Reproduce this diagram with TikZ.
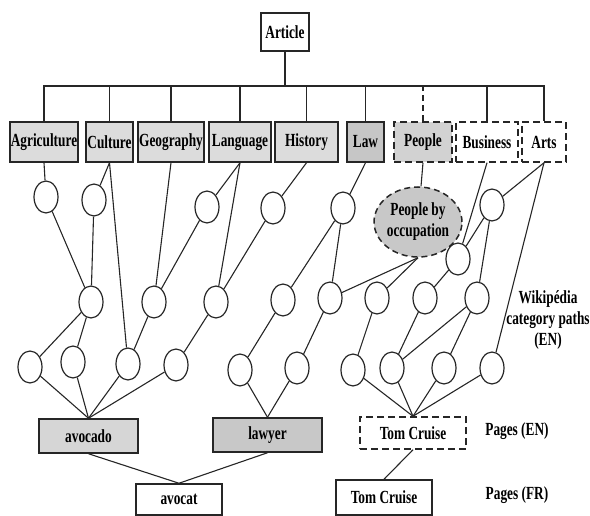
\documentclass[tikz,border=0pt]{standalone}
\usepackage{fontspec}
\setmainfont{Liberation Serif}[FakeStretch=0.72]
\usetikzlibrary{shapes.geometric}
\definecolor{lg}{HTML}{DCDCDC}
\definecolor{lawg}{HTML}{C6C6C6}
\definecolor{peopleg}{HTML}{D2D2D2}
\definecolor{avog}{HTML}{D6D6D6}
\definecolor{lawyg}{HTML}{C8C8C8}
\definecolor{pbog}{HTML}{C8C8C8}
\definecolor{ink}{HTML}{262626}
\tikzset{
  ln/.style={draw=ink, line width=1.1pt},
  bx/.style={rectangle, draw=ink, line width=1.5pt, inner sep=0pt,
             font=\fontsize{18.5}{21}\selectfont\bfseries},
  cat/.style={bx, fill=lg, minimum height=40pt},
  dashbx/.style={bx, dash pattern=on 7pt off 4pt},
  circ/.style={ellipse, draw=ink, fill=white, line width=1.2pt,
               minimum width=24pt, minimum height=32pt, inner sep=0pt},
  lbl/.style={font=\fontsize{18.5}{21}\selectfont\bfseries, align=center, inner sep=0pt}
}
\begin{document}
\begin{tikzpicture}[x=1pt,y=-1pt]
\useasboundingbox (0,0) rectangle (590,516);

% top boxes
\node[bx, minimum width=48pt, minimum height=38pt] (article) at (285,32) {Article};
\node[cat, minimum width=68pt] (agri) at (44,142) {Agriculture};
\node[cat, minimum width=47pt] (cult) at (109.5,142) {Culture};
\node[cat, minimum width=66pt] (geo) at (171,142) {Geography};
\node[cat, minimum width=62pt] (lang) at (240,142) {Language};
\node[cat, minimum width=63pt] (hist) at (306.5,142) {History};
\node[cat, fill=lawg, minimum width=37pt] (law) at (365.5,142) {Law};
\node[dashbx, fill=peopleg, minimum width=58pt, minimum height=40pt] (people) at (423,142) {People};
\node[dashbx, fill=white, minimum width=62pt, minimum height=40pt] (busi) at (487,142) {Business};
\node[dashbx, fill=white, minimum width=44pt, minimum height=40pt] (arts) at (544,142) {Arts};

% bus
\coordinate (busy) at (0,86);
\draw[ln, line width=1.3pt] (article.south) -- (article.south |- busy);
\draw[ln, line width=1.3pt] (agri.north) -- (agri.north |- busy) -- (arts.north |- busy) -- (arts.north);
\foreach \n in {cult,geo,lang,hist,law,busi}
  \draw[ln, line width=1.3pt] (\n.north) -- (\n.north |- busy);
\draw[ln, line width=1.3pt, dash pattern=on 6pt off 4pt] (people.north) -- (people.north |- busy);

% circles row 1
\node[circ] (a1) at (46,197) {};
\node[circ] (a2) at (94,200) {};
\node[circ] (a3) at (207,207) {};
\node[circ] (a4) at (273,208) {};
\node[circ] (a5) at (343,208) {};
\node[circ] (a6) at (492,205) {};
\node[circ] (a7) at (458,259) {};
\node[ellipse, draw=ink, fill=pbog, line width=1.5pt, dash pattern=on 6pt off 4pt,
      minimum width=76pt, minimum height=70pt, inner sep=0pt, lbl] (pbo) at (418,222)
      {People by\\occupation};

% circles row 2
\node[circ] (b1) at (91,302) {};
\node[circ] (b2) at (154,302) {};
\node[circ] (b3) at (216,302) {};
\node[circ] (b4) at (283,300) {};
\node[circ] (b5) at (330,298) {};
\node[circ] (b6) at (377,298) {};
\node[circ] (b7) at (425,298) {};
\node[circ] (b8) at (477,298) {};

% circles row 3
\node[circ] (c1) at (30,367) {};
\node[circ] (c2) at (73,362) {};
\node[circ] (c3) at (128,364) {};
\node[circ] (c4) at (176,365) {};
\node[circ] (c5) at (240,370) {};
\node[circ] (c6) at (297,368) {};
\node[circ] (c7) at (353,370) {};
\node[circ] (c8) at (392,368) {};
\node[circ] (c9) at (444,368) {};
\node[circ] (c10) at (492,368) {};

% bottom boxes
\node[bx, fill=avog, minimum width=99pt, minimum height=34pt] (avocado) at (88.5,436) {avocado};
\node[bx, fill=lawyg, minimum width=109pt, minimum height=34pt] (lawyer) at (267.5,435) {lawyer};
\node[dashbx, fill=white, minimum width=106pt, minimum height=32pt] (tcen) at (413,433) {Tom Cruise};
\node[bx, fill=white, minimum width=86pt, minimum height=31pt] (avocat) at (179,499.5) {avocat};
\node[bx, fill=white, minimum width=96pt, minimum height=35pt] (tcfr) at (384,497.5) {Tom Cruise};

% labels
\node[lbl] (wiki) at (548,320) {Wikip\'edia\\category paths\\(EN)};
\node[lbl] (pen) at (517,431) {Pages (EN)};
\node[lbl] (pfr) at (517,495) {Pages (FR)};

% edges from category boxes
\draw[ln] (agri.south) -- (a1);
\draw[ln] (cult.south) -- (a2);
\draw[ln] (cult.south) -- (c3);
\draw[ln] (geo.south) -- (b2);
\draw[ln] (lang.south) -- (a3);
\draw[ln] (lang.south) -- (b3);
\draw[ln] (hist.south) -- (a4);
\draw[ln] (law.south) -- (a5);
\draw[ln] (people.south) -- (pbo);
\draw[ln] (busi.south) -- (a7);
\draw[ln] (arts.south) -- (a6);
\draw[ln] (arts.south) -- (c10);

% row 1 -> row 2
\draw[ln] (a1) -- (b1);
\draw[ln] (a2) -- (b1);
\draw[ln] (a3) -- (b2);
\draw[ln] (a4) -- (b3);
\draw[ln] (a5) -- (b4);
\draw[ln] (a5) -- (b5);
\draw[ln] (pbo.south) -- (b5);
\draw[ln] (pbo.south) -- (b6);
\draw[ln] (a6) -- (a7);
\draw[ln] (a6) -- (b8);
\draw[ln] (a7) -- (b7);

% row 2 -> row 3
\draw[ln] (b1) -- (c1);
\draw[ln] (b1) -- (c2);
\draw[ln] (b2) -- (c3);
\draw[ln] (b3) -- (c4);
\draw[ln] (b4) -- (c5);
\draw[ln] (b5) -- (c6);
\draw[ln] (b6) -- (c7);
\draw[ln] (b7) -- (c8);
\draw[ln] (b8) -- (c8);
\draw[ln] (b8) -- (c9);

% row 3 -> pages
\foreach \c in {c1,c2,c3,c4} \draw[ln] (\c) -- (avocado.north);
\foreach \c in {c5,c6} \draw[ln] (\c) -- (lawyer.north);
\foreach \c in {c7,c8,c9,c10} \draw[ln] (\c) -- (tcen.north);

% translations
\draw[ln] (avocado.south) -- (avocat.north);
\draw[ln] (lawyer.south) -- (avocat.north);
\draw[ln] (tcen.south) -- (tcfr.north);
\end{tikzpicture}
\end{document}
